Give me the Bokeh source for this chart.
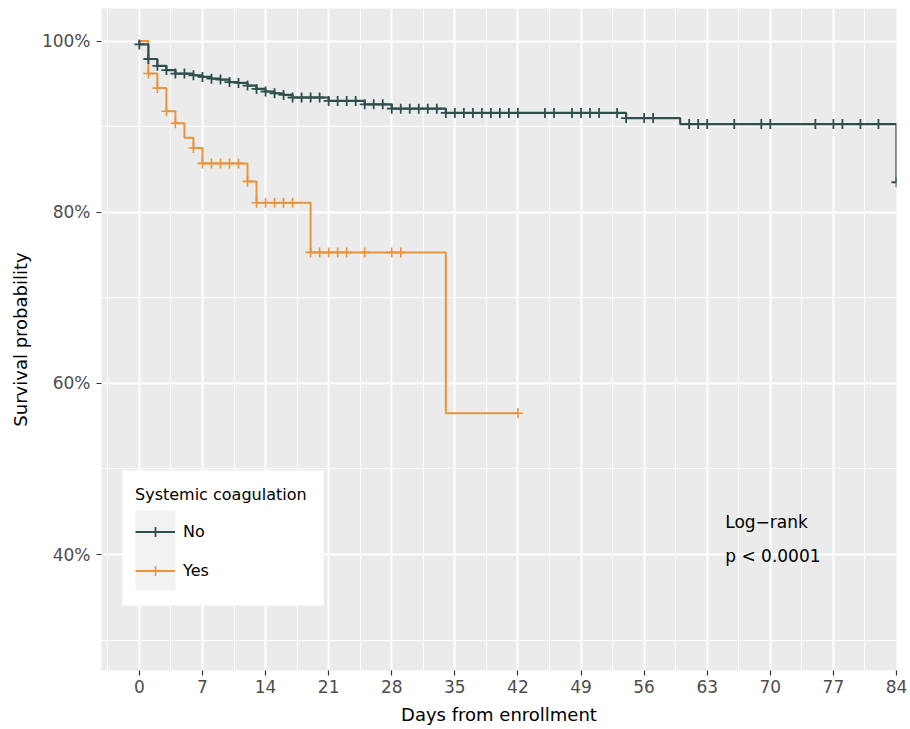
import numpy as np
from bokeh.plotting import figure
from bokeh.models import (FixedTicker, NumeralTickFormatter, Legend, LegendItem,
                          Label, Range1d, BoxAnnotation)
from bokeh.embed import file_html
from bokeh.resources import INLINE

# ---------------- data ----------------
# Kaplan-Meier: event days and survival after each event
no_event_days = [0, 1, 2, 3, 4, 6, 7, 8, 9, 10, 11, 12, 13, 14, 15, 16, 17,
                 21, 25, 28, 34, 54, 60, 84]
no_surv = [0.996, 0.979, 0.971, 0.966, 0.962, 0.960, 0.958, 0.956, 0.955, 0.952,
           0.951, 0.948, 0.944, 0.941, 0.939, 0.937, 0.934, 0.930, 0.926, 0.921,
           0.916, 0.910, 0.903, 0.835]
no_censor_days = [0, 1, 2, 3, 4, 5, 6, 7, 8, 9, 10, 11, 12, 13, 14, 15, 16, 17,
                  18, 19, 20, 21, 22, 23, 24, 25, 26, 27, 28, 29, 30, 31, 32, 33,
                  34, 35, 36, 37, 38, 39, 40, 41, 42, 45, 46, 48, 49, 50, 51, 53,
                  54, 56, 57, 61, 62, 63, 66, 69, 70, 75, 77, 78, 80, 82, 84]
no_end_day = 84

yes_event_days = [1, 2, 3, 4, 5, 6, 7, 12, 13, 19, 34]
yes_surv = [0.962, 0.945, 0.918, 0.904, 0.887, 0.875, 0.857, 0.836, 0.811, 0.753, 0.565]
yes_censor_days = [1, 2, 3, 4, 6, 7, 8, 9, 10, 11, 12, 13, 14, 15, 16, 17, 19, 20,
                   21, 22, 23, 25, 28, 29, 42]
yes_end_day = 42

groups = ["No", "Yes"]
legend_title = "Systemic coagulation"
x_ticks = [0, 7, 14, 21, 28, 35, 42, 49, 56, 63, 70, 77, 84]
y_ticks = [0.4, 0.6, 0.8, 1.0]
annot_lines = ["Log\u2212rank", "p < 0.0001"]

COL_NO = "#2F4F4F"
COL_YES = "#E8943A"
FONT = "DejaVu Sans"


def step_xy(days, surv, end_day):
    xs = [0.0] + list(days) + [end_day]
    ys = [1.0] + list(surv) + [surv[-1]]
    return xs, ys


def censor_y(days, surv, cdays):
    d = np.asarray(days, dtype=float)
    s = np.asarray(surv, dtype=float)
    out = []
    for c in cdays:
        idx = np.searchsorted(d, c, side="right") - 1
        out.append(1.0 if idx < 0 else s[idx])
    return out


p = figure(width=910, height=729, output_backend="svg", toolbar_location=None,
           x_range=Range1d(-4.2, 84), y_range=Range1d(0.2645, 1.038),
           min_border_left=101, min_border_right=14, min_border_top=8,
           min_border_bottom=59)
p.background_fill_color = "#EBEBEB"
p.border_fill_color = "white"
p.outline_line_color = None

# axes
p.xaxis.ticker = FixedTicker(ticks=x_ticks,
                             minor_ticks=[t - 3.5 for t in x_ticks])
p.yaxis.ticker = FixedTicker(ticks=y_ticks,
                             minor_ticks=[0.3, 0.5, 0.7, 0.9])
p.yaxis.formatter = NumeralTickFormatter(format="0%")
for ax in (p.xaxis[0], p.yaxis[0]):
    ax.axis_line_color = None
    ax.major_tick_line_color = "#333333"
    ax.major_tick_line_width = 1.2
    ax.major_tick_out = 5
    ax.major_tick_in = 0
    ax.minor_tick_out = 0
    ax.minor_tick_in = 0
    ax.major_label_text_font = FONT
    ax.major_label_text_font_size = "17px"
    ax.major_label_text_color = "#4D4D4D"
    ax.axis_label_text_font = FONT
    ax.axis_label_text_font_size = "18px"
    ax.axis_label_text_font_style = "normal"
    ax.axis_label_text_color = "black"
p.xaxis.axis_label = "Days from enrollment"
p.yaxis.axis_label = "Survival probability"
p.xaxis.major_label_standoff = 4
p.yaxis.major_label_standoff = 6
p.xaxis.axis_label_standoff = 8
p.yaxis.axis_label_standoff = 8

for g in (p.xgrid[0], p.ygrid[0]):
    g.grid_line_color = "white"
    g.grid_line_width = 2
    g.minor_grid_line_color = "white"
    g.minor_grid_line_width = 1

# curves
nx, ny = step_xy(no_event_days, no_surv, no_end_day)
yx, yy = step_xy(yes_event_days, yes_surv, yes_end_day)
r_yes_line = p.step(yx, yy, mode="after", line_color=COL_YES, line_width=2)
r_no_line = p.step(nx, ny, mode="after", line_color=COL_NO, line_width=2.2)
r_yes_c = p.scatter(yes_censor_days, censor_y(yes_event_days, yes_surv, yes_censor_days),
                    marker="cross", size=10, line_color=COL_YES, line_width=1.6)
r_no_c = p.scatter(no_censor_days, censor_y(no_event_days, no_surv, no_censor_days),
                   marker="cross", size=10, line_color=COL_NO, line_width=1.8)

# legend box and key background (screen units, relative to the frame)
p.add_layout(BoxAnnotation(left=20.7, right=222.3, bottom=65, top=200,
                           left_units="screen", right_units="screen",
                           bottom_units="screen", top_units="screen",
                           fill_color="white", fill_alpha=1, line_color=None,
                           level="guide"))
p.add_layout(BoxAnnotation(left=34, right=74, bottom=80, top=160,
                           left_units="screen", right_units="screen",
                           bottom_units="screen", top_units="screen",
                           fill_color="#F2F2F2", fill_alpha=1, line_color=None,
                           level="guide"))

legend = Legend(items=[
    LegendItem(label=groups[0], renderers=[r_no_line, r_no_c]),
    LegendItem(label=groups[1], renderers=[r_yes_line, r_yes_c]),
], location=(34, 87.5))
legend.title = legend_title
legend.title_text_font = FONT
legend.title_text_font_size = "16px"
legend.title_text_font_style = "normal"
legend.title_text_color = "black"
legend.title_standoff = 15
legend.label_text_font = FONT
legend.label_text_font_size = "16px"
legend.label_text_color = "black"
legend.label_standoff = 8
legend.glyph_width = 40
legend.glyph_height = 25
legend.spacing = 14
legend.padding = 0
legend.margin = 0
legend.border_line_color = None
legend.background_fill_alpha = 0
p.add_layout(legend)

# annotation
p.add_layout(Label(x=65, y=0.4385, text=annot_lines[0], text_font=FONT,
                   text_font_size="17px", text_baseline="middle", text_color="black"))
p.add_layout(Label(x=65, y=0.3988, text=annot_lines[1], text_font=FONT,
                   text_font_size="17px", text_baseline="middle", text_color="black"))

open("out.html", "w").write(file_html(p, INLINE))
